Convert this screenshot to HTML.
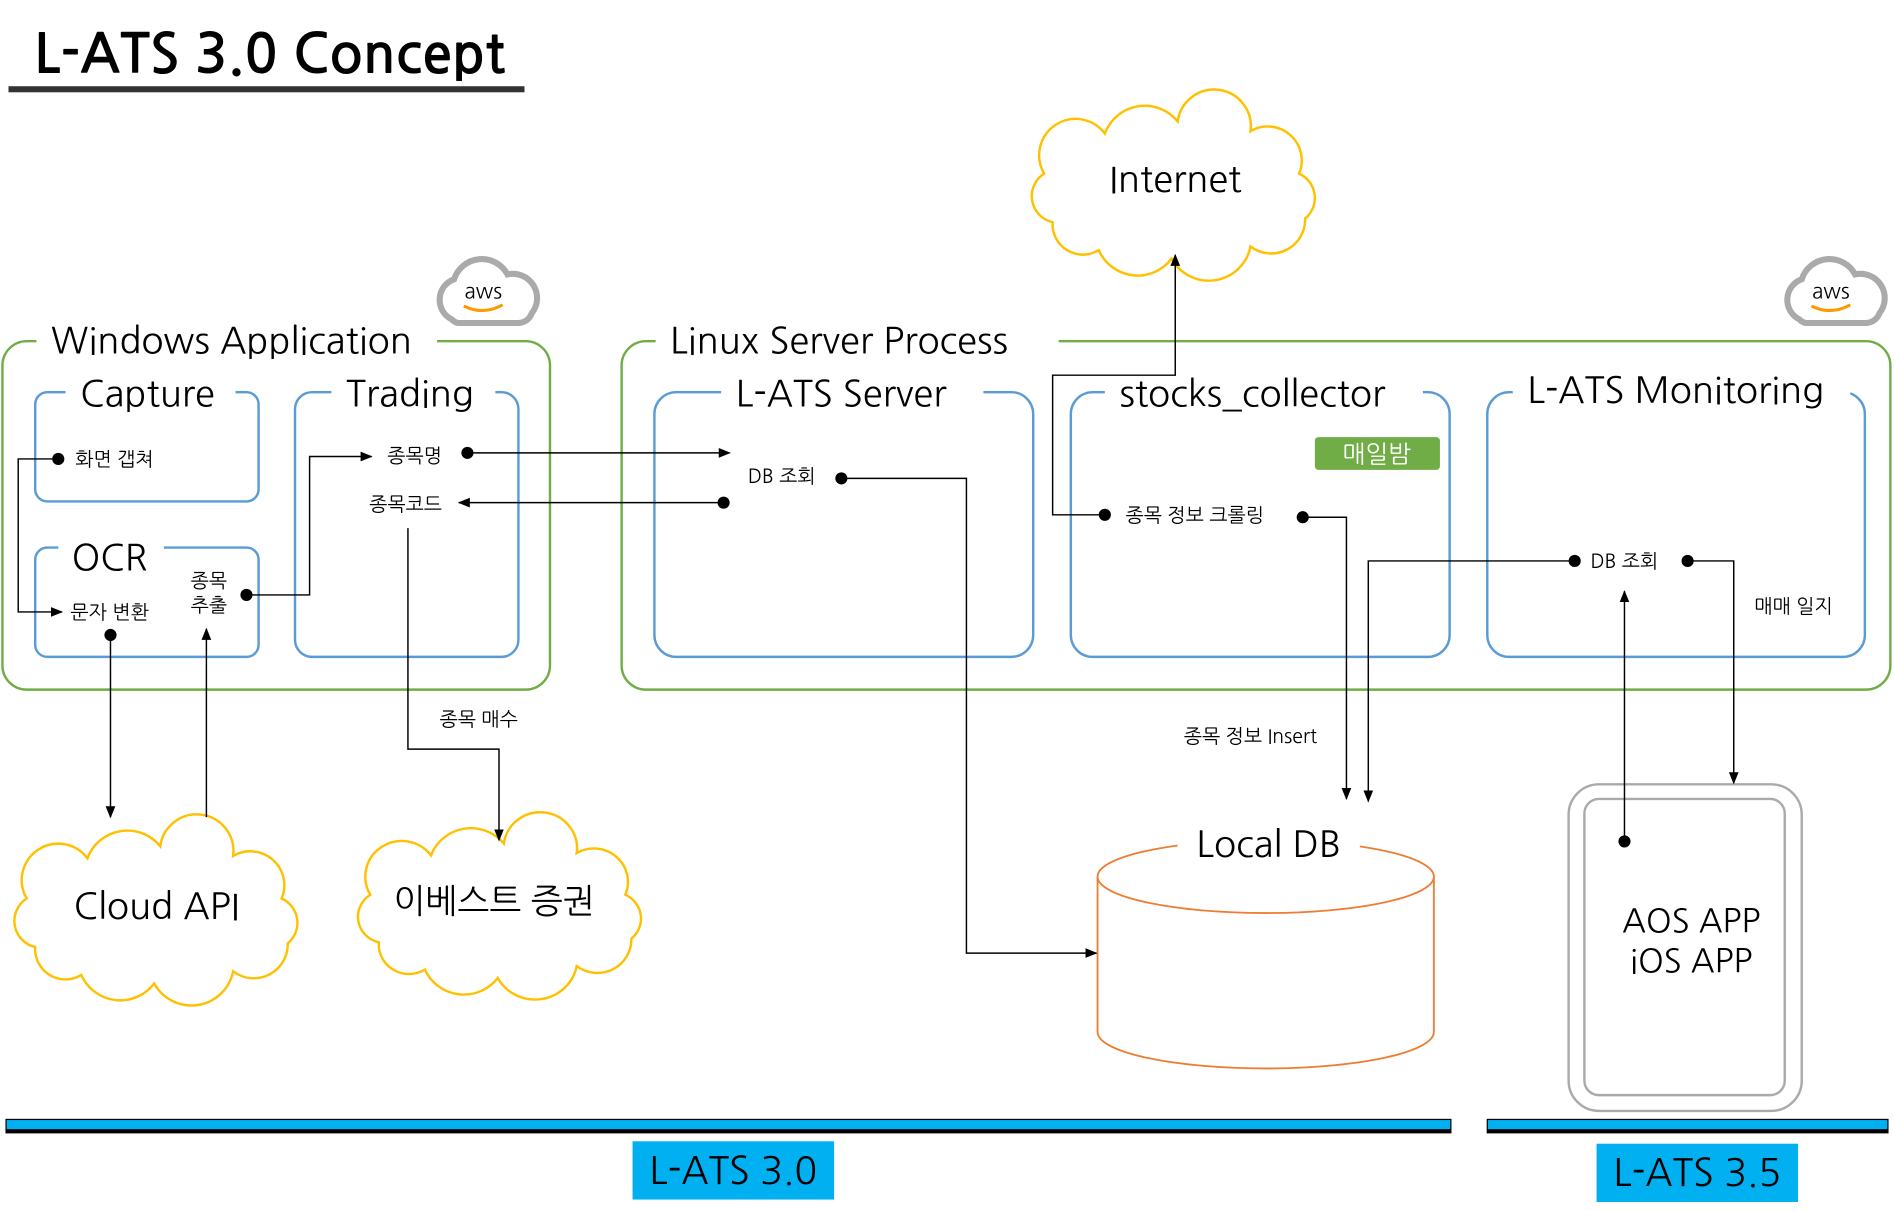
<!DOCTYPE html>
<html><head><meta charset="utf-8"><style>
html,body{margin:0;padding:0;background:#fff;}
svg{display:block;}
text{font-family:"NanumGothic","Liberation Sans","Noto Sans CJK KR",sans-serif;fill:#000;}
</style></head><body>
<svg width="1894" height="1211" viewBox="0 0 1560 997.4" xmlns="http://www.w3.org/2000/svg">
<defs>
<marker id="a" markerWidth="10" markerHeight="10" refX="9" refY="5" orient="auto" markerUnits="userSpaceOnUse"><path d="M0,1 L10,5 L0,9 Z" fill="#000"/></marker>
<path id="cloud" d="M22 95 A22 22 0 0 1 15 55 A30 30 0 0 1 65 22 A35 35 0 0 1 125 12 A30 30 0 0 1 185 20 A28 28 0 0 1 225 55 A22 22 0 0 1 230 92 A28 28 0 0 1 185 115 A35 35 0 0 1 120 125 A35 35 0 0 1 60 118 A25 25 0 0 1 22 95 Z"/>
<g id="aws">
<path d="M20 55 A18 18 0 0 1 22 22 A24 24 0 0 1 66 18 A20 20 0 0 1 86 50 A12 12 0 0 1 75 58 L25 58 A10 10 0 0 1 20 55 Z" fill="#fff" stroke="#aaa" stroke-width="5"/>
<text x="46" y="38" font-size="17" text-anchor="middle" fill="#232f3e">aws</text>
<path d="M30 44 Q46 52 62 43" fill="none" stroke="#f90" stroke-width="2.5"/>
</g>
</defs>

<text x="28" y="60" font-size="45" font-weight="bold">L-ATS 3.0 Concept</text>
<rect x="7" y="71" width="425" height="5" fill="#333"/>

<g fill="none" stroke-width="2">
<rect x="2" y="281" width="451" height="287" rx="20" stroke="#70ad47"/>
<rect x="512" y="281" width="1045" height="287" rx="20" stroke="#70ad47"/>
<g stroke="#5b9bd5">
<rect x="29" y="323" width="184" height="90" rx="10"/>
<rect x="29" y="451" width="184" height="90" rx="10"/>
<rect x="243" y="323" width="184" height="218" rx="14"/>
<rect x="539" y="323" width="312" height="218" rx="18"/>
<rect x="882" y="323" width="312" height="218" rx="18"/>
<rect x="1225" y="323" width="311" height="218" rx="18"/>
</g>
</g>
<g fill="#fff">
<rect x="30" y="262" width="330" height="30"/>
<rect x="540" y="262" width="332" height="30"/>
<rect x="54" y="305" width="140" height="30"/>
<rect x="273" y="305" width="135" height="30"/>
<rect x="48" y="435" width="87" height="30"/>
<rect x="594" y="305" width="216" height="30"/>
<rect x="910" y="305" width="262" height="30"/>
<rect x="1246" y="300" width="278" height="35"/>
</g>
<g font-size="30">
<text x="42" y="291">Windows Application</text>
<text x="552" y="291">Linux Server Process</text>
<text x="66" y="335">Capture</text>
<text x="285" y="335">Trading</text>
<text x="59" y="470">OCR</text>
<text x="606" y="335">L-ATS Server</text>
<text x="922" y="335">stocks_collector</text>
<text x="1258" y="332">L-ATS Monitoring</text>
</g>
<use href="#aws" x="352" y="208"/>
<use href="#aws" x="1462" y="208"/>

<rect x="1083" y="360" width="103" height="27" rx="3" fill="#70ad47"/>
<text x="1134" y="381" font-size="20" text-anchor="middle" style="fill:#fff">매일밤</text>

<use href="#cloud" transform="translate(845,88)" fill="#fff" stroke="#ffc000" stroke-width="2"/>
<text x="968" y="158" font-size="30" text-anchor="middle">Internet</text>
<use href="#cloud" transform="translate(7,685)" fill="#fff" stroke="#ffc000" stroke-width="2"/>
<text x="129" y="757" font-size="30" text-anchor="middle">Cloud API</text>
<use href="#cloud" transform="translate(290,683) scale(1,0.98)" fill="#fff" stroke="#ffc000" stroke-width="2"/>
<text x="407" y="752" font-size="28" text-anchor="middle">이베스트 증권</text>

<path d="M904 722 L904 850 A138.5 30 0 0 0 1181 850 L1181 722" fill="#fff" stroke="#ed7d31" stroke-width="1.5"/>
<ellipse cx="1042.5" cy="722" rx="138.5" ry="30" fill="#fff" stroke="#ed7d31" stroke-width="1.5"/>
<rect x="970" y="676" width="150" height="40" fill="#fff"/>
<text x="1045" y="706" font-size="30" text-anchor="middle">Local DB</text>

<rect x="1292" y="646" width="192" height="269" rx="25" fill="#fff" stroke="#aaa" stroke-width="2"/>
<rect x="1305" y="658" width="165" height="244" rx="12" fill="#fff" stroke="#aaa" stroke-width="2"/>
<text x="1393" y="768" font-size="27" text-anchor="middle">AOS APP</text>
<text x="1393" y="801" font-size="27" text-anchor="middle">iOS APP</text>

<rect x="5" y="922" width="1190" height="11" fill="#00b0f0" stroke="#000" stroke-width="1"/>
<rect x="5" y="930" width="1190" height="3" fill="#000"/>
<rect x="1225" y="922" width="330" height="11" fill="#00b0f0" stroke="#000" stroke-width="1"/>
<rect x="1225" y="930" width="330" height="3" fill="#000"/>
<rect x="521" y="940" width="166" height="48" fill="#00b0f0"/>
<text x="604" y="975" font-size="31" text-anchor="middle">L-ATS 3.0</text>
<rect x="1315" y="942" width="166" height="48" fill="#00b0f0"/>
<text x="1398" y="977" font-size="31" text-anchor="middle">L-ATS 3.5</text>

<g font-size="16">
<text x="62" y="384">화면 갭쳐</text>
<text x="58" y="510">문자 변환</text>
<text x="157" y="484">종목</text>
<text x="157" y="504">추출</text>
<text x="319" y="381">종목명</text>
<text x="304" y="421">종목코드</text>
<text x="362" y="598">종목 매수</text>
<text x="616" y="398">DB 조회</text>
<text x="927" y="430">종목 정보 크롤링</text>
<text x="975" y="612">종목 정보 Insert</text>
<text x="1310" y="468">DB 조회</text>
<text x="1445" y="505">매매 일지</text>
</g>

<g fill="none" stroke="#000" stroke-width="1.2">
<path d="M48 378 H15 V504 H51" marker-end="url(#a)"/>
<path d="M91 523 V673" marker-end="url(#a)"/>
<path d="M170 673 V518" marker-end="url(#a)"/>
<path d="M203 490 H255 V376 H306" marker-end="url(#a)"/>
<path d="M385 373 H601" marker-end="url(#a)"/>
<path d="M596 414 H378" marker-end="url(#a)"/>
<path d="M336 435 V617 H411 V692" marker-end="url(#a)"/>
<path d="M693 394 H796 V785 H903" marker-end="url(#a)"/>
<path d="M910 424 H867 V309 H968 V210" marker-end="url(#a)"/>
<path d="M1073 426 H1109 V658" marker-end="url(#a)"/>
<path d="M1297 462 H1127 V660" marker-end="url(#a)"/>
<path d="M1390 462 H1428 V645" marker-end="url(#a)"/>
<path d="M1338 693 V487" marker-end="url(#a)"/>
</g>
<g fill="#000">
<circle cx="48" cy="378" r="5"/>
<circle cx="91" cy="523" r="5"/>
<circle cx="203" cy="490" r="5"/>
<circle cx="385" cy="373" r="5"/>
<circle cx="596" cy="414" r="5"/>
<circle cx="693" cy="394" r="5"/>
<circle cx="910" cy="424" r="5"/>
<circle cx="1073" cy="426" r="5"/>
<circle cx="1297" cy="462" r="5"/>
<circle cx="1390" cy="462" r="5"/>
<circle cx="1338" cy="693" r="5"/>
</g>
</svg>
</body></html>
